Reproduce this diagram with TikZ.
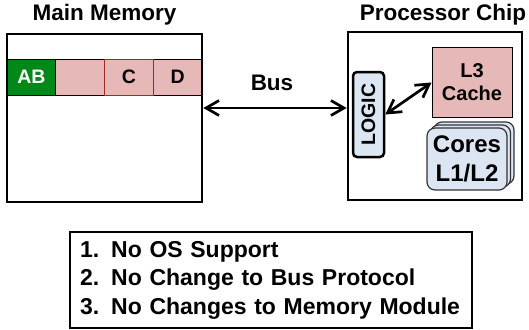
\documentclass[tikz,border=0pt]{standalone}
\usepackage{fontspec}
\setmainfont{Liberation Sans}
\usepackage{xcolor}
\usepackage{tikz}
\usetikzlibrary{arrows.meta, positioning}
\definecolor{cellpink}{RGB}{230,185,184}
\definecolor{abgreen}{RGB}{0,136,24}
\definecolor{cellred}{RGB}{165,40,30}
\definecolor{paleblue}{RGB}{220,230,242}
\tikzset{
    box/.style={rectangle, draw, line width=2.7pt, inner sep=0pt},
    cell/.style={rectangle, draw, line width=0.8pt, fill=cellpink, minimum width=48.75pt, minimum height=36pt, inner sep=0pt, font=\bfseries\fontsize{19.5}{22}\selectfont},
    title/.style={font=\bfseries\fontsize{22.5}{26}\selectfont},
    logicbox/.style={rectangle, rounded corners=4pt, draw, line width=2.5pt, fill=paleblue, minimum width=85pt, minimum height=31pt, inner sep=0pt, font=\bfseries\fontsize{19.5}{22}\selectfont},
    cache/.style={rectangle, draw, line width=1pt, fill=cellpink, minimum width=80pt, minimum height=69pt, inner sep=0pt, align=center, font=\bfseries\fontsize{20}{23}\selectfont},
    core/.style={rectangle, rounded corners=8pt, draw=black!80, line width=1.2pt, fill=paleblue, minimum width=80pt, minimum height=62pt, inner sep=0pt, align=center, font=\bfseries\fontsize{24}{29}\selectfont},
    arrow/.style={{Straight Barb[length=13pt,width=15pt]}-{Straight Barb[length=13pt,width=15pt]}, line width=2.7pt}
}
\begin{document}
\begin{tikzpicture}[x=1pt, y=-1pt]
    \useasboundingbox (0,0) rectangle (529,329);

    % Titles
    \node[title] (memtitle) at (104.5,15) {Main Memory};
    \node[title] (chiptitle) at (443,15) {Processor Chip};

    % Memory row
    \node[cell, fill=abgreen, text=white] (ab) at (31.5,77) {AB};
    \node[cell] (blank) at (80.25,77) {};
    \node[cell] (d) at (177.75,77) {D};
    \node[cell, draw=cellred] (c) at (129,77) {C};
    \node[box, minimum width=195pt, minimum height=168pt] (mem) at (104.5,118) {};

    % Processor chip
    \node[box, minimum width=174pt, minimum height=168pt] (chip) at (435,116) {};
    \node[logicbox, rotate=90] (logic) at (368.5,114.5) {LOGIC};
    \node[cache] (l3) at (472,82.5) {L3\\Cache};
    \node[core] (core3) at (474,153) {};
    \node[core] (core2) at (470.5,156) {};
    \node[core] (core1) at (467,159) {Cores\\L1/L2};

    % Bus
    \coordinate (busy) at (0,108);
    \node[title] (bus) at (272,83) {Bus};
    \draw[arrow] (mem.east |- busy) -- (chip.west |- busy);
    \draw[arrow] (logic.south) -- (l3.west);

    % Requirements
    \node[box, text width=382pt, inner xsep=10pt, minimum height=96pt, align=left, font=\bfseries\fontsize{23}{28.5}\selectfont] (reqs) at (271,280) {1.\hspace{12pt}No OS Support\\2.\hspace{12pt}No Change to Bus Protocol\\3.\hspace{12pt}No Changes to Memory Module};
\end{tikzpicture}
\end{document}
